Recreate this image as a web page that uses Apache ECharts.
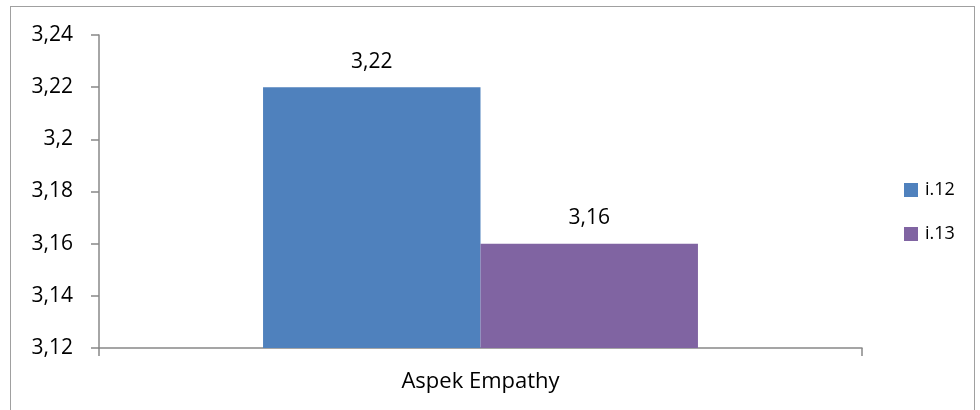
<!DOCTYPE html>
<html><head><meta charset="utf-8">
<script src="https://cdn.jsdelivr.net/npm/echarts@6/dist/echarts.min.js"></script>
<style>html,body{margin:0;padding:0;background:#fff}#c{width:980px;height:410px;position:relative}
#b{position:absolute;left:10px;top:6px;width:965px;height:410px;border:1px solid #a0a0a0;box-sizing:border-box;pointer-events:none}</style>
</head><body><div id="c"></div><div id="b"></div>
<script>
const categories = ["Aspek Empathy"];
const seriesNames = ["i.12", "i.13"];
const valuesI12 = [3.22];
const valuesI13 = [3.16];
const yTicks = [3.12, 3.14, 3.16, 3.18, 3.20, 3.22, 3.24];
const colors = ["#4f81bd", "#8064a2"];
const fmt = v => String(+v.toFixed(2)).replace('.', ',');
const font = "'Open Sans', 'Noto Sans', sans-serif";
const chart = echarts.init(document.getElementById('c'));
chart.setOption({
  animation: false,
  textStyle: {fontFamily: font},
  grid: {left: 99, right: 118, top: 35, bottom: 62},
  legend: {
    orient: 'vertical', left: 899, top: 176, itemWidth: 14, itemHeight: 14, itemGap: 26,
    icon: 'rect', textStyle: {fontSize: 18, color: '#000', fontFamily: font, padding: [0, 0, 0, 2]},
    data: seriesNames
  },
  xAxis: {
    type: 'category', data: categories,
    axisLine: {lineStyle: {color: '#888', width: 1.5}},
    axisTick: {show: true, alignWithLabel: false, length: 8, lineStyle: {color: '#888', width: 1.5}},
    axisLabel: {fontSize: 22, color: '#000', margin: 23, fontFamily: font}
  },
  yAxis: {
    type: 'value', min: yTicks[0], max: yTicks[yTicks.length - 1], interval: 0.02,
    splitLine: {show: false},
    axisLine: {show: true, lineStyle: {color: '#888', width: 1.5}},
    axisTick: {show: true, length: 8, lineStyle: {color: '#888', width: 1.5}},
    axisLabel: {fontSize: 21, color: '#000', margin: 26, formatter: fmt, fontFamily: font}
  },
  series: [
    {name: seriesNames[0], type: 'bar', data: valuesI12, barGap: '0%', barCategoryGap: '43%',
     itemStyle: {color: colors[0]},
     label: {show: true, position: 'top', distance: 15, fontSize: 21, color: '#000', formatter: p => fmt(p.value), fontFamily: font}},
    {name: seriesNames[1], type: 'bar', data: valuesI13, barGap: '0%', barCategoryGap: '43%',
     itemStyle: {color: colors[1]},
     label: {show: true, position: 'top', distance: 15, fontSize: 21, color: '#000', formatter: p => fmt(p.value), fontFamily: font}}
  ]
});
</script></body></html>
